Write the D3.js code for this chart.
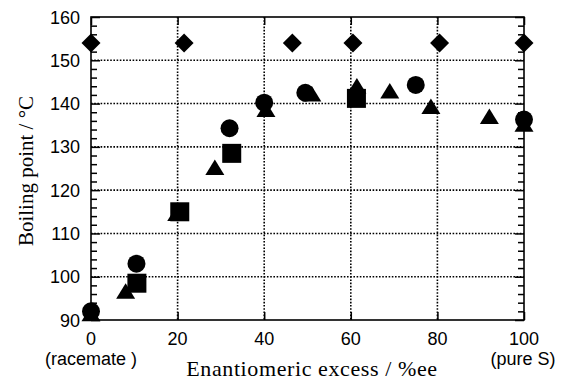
<!DOCTYPE html>
<html lang="en">
<head>
<meta charset="UTF-8">
<title>Boiling point vs enantiomeric excess</title>
<script src="https://d3js.org/d3.v7.min.js"></script>
<style>
  body { margin: 0; background: #fff; }
  .tick-label { font: 18px "Liberation Sans", Arial, sans-serif; fill: #000; }
  .title { font-family: "Liberation Serif", "Times New Roman", serif; fill: #000; }
  .grid { stroke: #000; stroke-width: 1.6; stroke-dasharray: 1.6,1.6; fill: none; }
  .frame { stroke: #000; stroke-width: 1.6; fill: none; }
</style>
</head>
<body>
<div id="chart"></div>
<script>
  // data
  const xTicks = [0, 20, 40, 60, 80, 100];
  const yTicks = [90, 100, 110, 120, 130, 140, 150, 160];
  const xSubLabels = ["(racemate )", "(pure S)"];

  const diamondX = [0, 21.5, 46.5, 60.5, 80.5, 100];
  const diamondY = [154, 154, 154, 154, 154, 154];

  const circleX = [0, 10.5, 32, 40, 49.5, 75, 100];
  const circleY = [92, 103, 134.3, 140.2, 142.5, 144.3, 136.3];

  const squareX = [10.6, 20.5, 32.5, 61.3];
  const squareY = [98.5, 115, 128.5, 141.2];

  const triX = [0, 8, 19.8, 28.6, 40.4, 51, 61.4, 69, 78.5, 92, 100];
  const triY = [91.2, 96.4, 114.4, 125, 138.4, 142, 143.8, 142.7, 139.1, 136.8, 135];

  const W = 561, H = 382;
  const plot = { left: 91, right: 524, top: 17, bottom: 320 };

  const svg = d3.select("#chart").append("svg")
    .attr("width", W).attr("height", H);

  const x = d3.scaleLinear().domain([0, 100]).range([plot.left, plot.right]);
  const y = d3.scaleLinear().domain([90, 160]).range([plot.bottom, plot.top]);

  // dotted grid
  svg.append("g").selectAll("line.gx")
    .data(xTicks.slice(1, -1)).enter().append("line")
    .attr("class", "grid")
    .attr("x1", d => x(d)).attr("x2", d => x(d))
    .attr("y1", plot.top).attr("y2", plot.bottom);
  svg.append("g").selectAll("line.gy")
    .data(yTicks.slice(1, -1)).enter().append("line")
    .attr("class", "grid")
    .attr("y1", d => y(d)).attr("y2", d => y(d))
    .attr("x1", plot.left).attr("x2", plot.right);

  // axes with inward ticks
  const minorY = d3.range(90, 160.1, 2);
  const yMajor = 9, yMinor = 6, xMajor = 8;

  svg.append("g").attr("transform", `translate(${plot.left},0)`)
    .call(d3.axisRight(y).tickValues(minorY).tickSize(yMinor).tickFormat(""))
    .call(g => g.select(".domain").remove())
    .call(g => g.selectAll("line").attr("stroke-width", 1.5)
      .attr("x2", d => yTicks.includes(d) ? yMajor : yMinor));
  svg.append("g").attr("transform", `translate(${plot.right},0)`)
    .call(d3.axisLeft(y).tickValues(minorY).tickSize(yMinor).tickFormat(""))
    .call(g => g.select(".domain").remove())
    .call(g => g.selectAll("line").attr("stroke-width", 1.5)
      .attr("x2", d => yTicks.includes(d) ? -yMajor : -yMinor));
  svg.append("g").attr("transform", `translate(0,${plot.bottom})`)
    .call(d3.axisTop(x).tickValues(xTicks).tickSize(xMajor).tickFormat(""))
    .call(g => g.select(".domain").remove())
    .call(g => g.selectAll("line").attr("stroke-width", 1.5));
  svg.append("g").attr("transform", `translate(0,${plot.top})`)
    .call(d3.axisBottom(x).tickValues(xTicks).tickSize(xMajor).tickFormat(""))
    .call(g => g.select(".domain").remove())
    .call(g => g.selectAll("line").attr("stroke-width", 1.5));

  svg.append("rect").attr("class", "frame")
    .attr("x", plot.left).attr("y", plot.top)
    .attr("width", plot.right - plot.left).attr("height", plot.bottom - plot.top);

  // tick labels
  svg.append("g").selectAll("text")
    .data(yTicks).enter().append("text")
    .attr("class", "tick-label")
    .attr("x", 80).attr("y", d => y(d) + 6.5)
    .attr("text-anchor", "end")
    .text(d => d);
  svg.append("g").selectAll("text")
    .data(xTicks).enter().append("text")
    .attr("class", "tick-label")
    .attr("x", d => x(d)).attr("y", 345)
    .attr("text-anchor", "middle")
    .text(d => d);
  svg.append("text").attr("class", "tick-label")
    .attr("x", x(0)).attr("y", 365).attr("text-anchor", "middle")
    .text(xSubLabels[0]);
  svg.append("text").attr("class", "tick-label")
    .attr("x", x(100) - 1).attr("y", 365).attr("text-anchor", "middle")
    .text(xSubLabels[1]);

  // axis titles
  svg.append("text").attr("class", "title")
    .attr("x", 312).attr("y", 376).attr("text-anchor", "middle")
    .style("font-size", "22px").style("letter-spacing", "0.6px")
    .text("Enantiomeric excess / %ee");
  svg.append("text").attr("class", "title")
    .attr("transform", "translate(33,171) rotate(-90)")
    .attr("text-anchor", "middle")
    .style("font-size", "21px")
    .text("Boiling point / °C");

  // markers
  const zip = (a, b) => a.map((v, i) => [v, b[i]]);
  const marks = svg.append("g");

  marks.selectAll("path.dia")
    .data(zip(diamondX, diamondY)).enter().append("path")
    .attr("transform", d => `translate(${x(d[0])},${y(d[1])})`)
    .attr("d", "M0,-9.5L9.5,0L0,9.5L-9.5,0Z");

  marks.selectAll("circle")
    .data(zip(circleX, circleY)).enter().append("circle")
    .attr("cx", d => x(d[0])).attr("cy", d => y(d[1])).attr("r", 9);

  marks.selectAll("rect")
    .data(zip(squareX, squareY)).enter().append("rect")
    .attr("x", d => x(d[0]) - 9.5).attr("y", d => y(d[1]) - 9.5)
    .attr("width", 19).attr("height", 19);

  marks.selectAll("path.tri")
    .data(zip(triX, triY)).enter().append("path")
    .attr("transform", d => `translate(${x(d[0])},${y(d[1])})`)
    .attr("d", "M0,-9L9.5,6.5L-9.5,6.5Z");
</script>
</body>
</html>
